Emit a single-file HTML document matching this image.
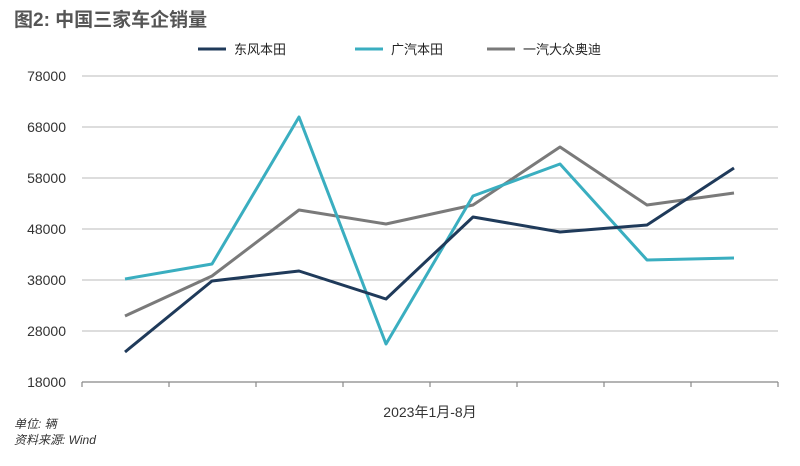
<!DOCTYPE html>
<html><head><meta charset="utf-8"><style>
body{margin:0;background:#fff;width:800px;height:461px;overflow:hidden;font-family:"Liberation Sans","Noto Sans CJK SC",sans-serif;}
</style></head><body>
<svg width="800" height="461" xmlns="http://www.w3.org/2000/svg" font-family="Liberation Sans, Noto Sans CJK SC, sans-serif">
<text x="14" y="26" font-size="19" font-weight="bold" fill="#555">图2: 中国三家车企销量</text>
<g stroke-width="3" fill="none">
<line x1="198" y1="49" x2="226" y2="49" stroke="#1f3a5a"/>
<line x1="355" y1="49" x2="383" y2="49" stroke="#3aaec0"/>
<line x1="487" y1="49" x2="515" y2="49" stroke="#7a7a7a"/>
</g>
<g font-size="13" fill="#222">
<text x="234" y="54">东风本田</text>
<text x="391" y="54">广汽本田</text>
<text x="523" y="54">一汽大众奥迪</text>
</g>
<g stroke="#bbb" stroke-width="1">
<line x1="82" y1="76" x2="778" y2="76"/><line x1="82" y1="127" x2="778" y2="127"/>
<line x1="82" y1="178" x2="778" y2="178"/><line x1="82" y1="229" x2="778" y2="229"/>
<line x1="82" y1="280" x2="778" y2="280"/><line x1="82" y1="331" x2="778" y2="331"/>
</g>
<g stroke="#888" stroke-width="1.2">
<line x1="82" y1="382" x2="778" y2="382"/>
<line x1="82" y1="382" x2="82" y2="387"/><line x1="169" y1="382" x2="169" y2="387"/>
<line x1="256" y1="382" x2="256" y2="387"/><line x1="343" y1="382" x2="343" y2="387"/>
<line x1="430" y1="382" x2="430" y2="387"/><line x1="517" y1="382" x2="517" y2="387"/>
<line x1="604" y1="382" x2="604" y2="387"/><line x1="691" y1="382" x2="691" y2="387"/>
<line x1="778" y1="382" x2="778" y2="387"/>
</g>
<g font-size="14" fill="#333" text-anchor="end">
<text x="66" y="81">78000</text><text x="66" y="132">68000</text><text x="66" y="183">58000</text>
<text x="66" y="234">48000</text><text x="66" y="285">38000</text><text x="66" y="336">28000</text>
<text x="66" y="387">18000</text>
</g>
<g fill="none" stroke-width="3" stroke-linejoin="round">
<polyline stroke="#7a7a7a" points="125,316 212,276 299,210 386,224 473,205 560,147 647,205 734,193"/>
<polyline stroke="#3aaec0" points="125,279 212,264 299,117 386,344 473,196 560,164 647,260 734,258"/>
<polyline stroke="#1f3a5a" points="125,352 212,281 299,271 386,299 473,217 560,232 647,225 734,168"/>
</g>
<text x="430" y="417" font-size="14" fill="#333" text-anchor="middle">2023年1月-8月</text>
<g font-size="12" fill="#333" font-style="italic">
<text x="14" y="428">单位: 辆</text>
<text x="14" y="444">资料来源: Wind</text>
</g>
</svg>
</body></html>
